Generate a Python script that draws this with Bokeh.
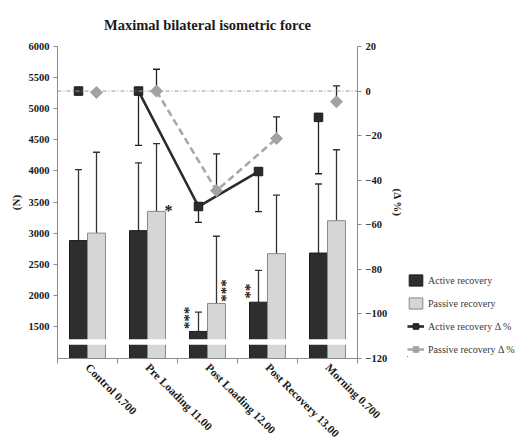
import math
from bokeh.plotting import figure
from bokeh.layouts import row
from bokeh.models import (Range1d, LinearAxis, FixedTicker, ColumnDataSource, Whisker,
                          TeeHead, Legend, LegendItem, Span)
from bokeh.core.properties import value
from bokeh.embed import file_html
from bokeh.resources import INLINE

# ---------------- data ----------------
categories = ["Control 0.700", "Pre Loading 11.00", "Post Loading 12.00",
              "Post Recovery 13.00", "Morning 0.700"]
active_force = [2880, 3040, 1420, 1890, 2680]
active_force_sd = [1140, 1090, 310, 510, 1110]
passive_force = [3000, 3350, 1870, 2670, 3200]
passive_force_sd = [1300, 1090, 1080, 940, 1140]
active_delta = [0, 0, -51.8, -36.1, -11.8]
active_delta_sd = [0, 24.4, 7.1, 18.0, 25.3]
passive_delta = [-0.6, 0, -44.7, -21.3, -4.8]
passive_delta_sd = [0, 9.8, 16.5, 9.7, 7.1]
connected = [1, 2, 3]          # category indices joined by the Δ% lines
left_ticks = [1500, 2000, 2500, 3000, 3500, 4000, 4500, 5000, 5500, 6000]
right_ticks = [-120, -100, -80, -60, -40, -20, 0, 20]
legend_labels = ["Active recovery", "Passive recovery", "Active recovery Δ %", "Passive recovery Δ %"]
# significance marks: (text, category index, series)
significance = [("*", 1, "passive"), ("***", 2, "active"),
                ("***", 2, "passive"), ("**", 3, "active")]

# ---------------- styling ----------------
FONT = "Liberation Serif"
DARK = "#2e2e2e"
LIGHT = "#d6d6d6"
GRAY_LINE = "#a8a8a8"
DIAMOND = "#a3a3a3"
AXIS_C = "#8c8c8c"
OFF = 0.15
BW = 0.3
# placement of significance marks relative to their bar (x in category units, y in N, angle, size)
sig_place = [(0.20, 15, 0, "16px"), (-0.16, 220, math.pi / 2, "15px"),
             (0.15, 210, math.pi / 2, "15px"), (-0.15, 180, math.pi / 2, "15px")]

x = [i + 1 for i in range(len(categories))]
xa = [v - OFF for v in x]
xp = [v + OFF for v in x]

p = figure(frame_width=300, frame_height=312, output_backend="svg", toolbar_location=None,
           x_range=Range1d(0.5, 5.5), y_range=Range1d(985, 6000),
           min_border_left=57, min_border_top=44, min_border_right=40, min_border_bottom=88)
p.extra_y_ranges = {"pct": Range1d(-120, 20)}
p.grid.visible = False
p.outline_line_color = None
p.background_fill_color = "white"

p.title.text = "Maximal bilateral isometric force"
p.title.text_font = FONT
p.title.text_font_size = "14.5px"
p.title.text_font_style = "bold"
p.title.text_color = "#1a1a1a"
p.title.align = "center"
p.title.standoff = 28

bar_a_style = dict(fill_color=DARK, line_color="#1a1a1a", line_width=1)
bar_p_style = dict(fill_color=LIGHT, line_color="#8a8a8a", line_width=1)
ln_a_style = dict(line_color="#2b2b2b", line_width=2.6)
ln_p_style = dict(line_color=GRAY_LINE, line_width=2.6, line_dash="7 4")
sc_a_style = dict(marker="square", size=8.5, fill_color="#2b2b2b", line_color="#1a1a1a")
sc_p_style = dict(marker="square", angle=math.pi / 4, size=8.5, fill_color=DIAMOND, line_color=DIAMOND)

# bars
p.vbar(x=xa, top=active_force, bottom=0, width=BW, **bar_a_style)
p.vbar(x=xp, top=passive_force, bottom=0, width=BW, **bar_p_style)
# axis break band
p.quad(left=[0.5], right=[5.5], bottom=[1205], top=[1295], fill_color="white", line_color=None)

# bar error bars (upper only)
for xs, m, sd in ((xa, active_force, active_force_sd), (xp, passive_force, passive_force_sd)):
    src = ColumnDataSource(dict(x=xs, lower=m, upper=[a + b for a, b in zip(m, sd)]))
    p.add_layout(Whisker(source=src, base="x", lower="lower", upper="upper",
                         line_color="#333333", line_width=1.3, lower_head=None,
                         upper_head=TeeHead(size=7, line_color="#333333", line_width=1.3)))

# zero reference line on the Δ% axis
p.add_layout(Span(location=0, dimension="width", y_range_name="pct", line_color="#9a9a9a",
                  line_width=1, line_dash="4 2 1 2"))

# Δ% error bars
sel = [i for i in range(5) if active_delta_sd[i] > 0]
src = ColumnDataSource(dict(x=[xa[i] for i in sel], upper=[active_delta[i] for i in sel],
                            lower=[active_delta[i] - active_delta_sd[i] for i in sel]))
p.add_layout(Whisker(source=src, base="x", lower="lower", upper="upper", y_range_name="pct",
                     line_color="#222222", line_width=1.3, upper_head=None,
                     lower_head=TeeHead(size=7, line_color="#222222", line_width=1.3)))
sel = [i for i in range(5) if passive_delta_sd[i] > 0]
src = ColumnDataSource(dict(x=[xp[i] for i in sel], lower=[passive_delta[i] for i in sel],
                            upper=[passive_delta[i] + passive_delta_sd[i] for i in sel]))
p.add_layout(Whisker(source=src, base="x", lower="lower", upper="upper", y_range_name="pct",
                     line_color="#222222", line_width=1.3, lower_head=None,
                     upper_head=TeeHead(size=7, line_color="#222222", line_width=1.3)))

# Δ% lines and markers
p.line([xp[i] for i in connected], [passive_delta[i] for i in connected],
       y_range_name="pct", **ln_p_style)
p.line([xa[i] for i in connected], [active_delta[i] for i in connected],
       y_range_name="pct", **ln_a_style)
p.scatter(xp, passive_delta, y_range_name="pct", **sc_p_style)
p.scatter(xa, active_delta, y_range_name="pct", **sc_a_style)

# significance marks
for (txt, i, series), (dx, dy, ang, fs) in zip(significance, sig_place):
    base_x = xa[i] if series == "active" else xp[i]
    top = active_force[i] if series == "active" else passive_force[i]
    p.text(x=[base_x + dx], y=[top + dy], text=[txt], angle=ang, text_font=value(FONT),
           text_font_size=fs, text_font_style="bold",
           text_color="#1a1a1a", text_align="center", text_baseline="middle")

# axes
def style_axis(ax):
    ax.axis_line_color = AXIS_C
    ax.major_tick_line_color = AXIS_C
    ax.minor_tick_line_color = None
    ax.major_tick_in = 0
    ax.major_tick_out = 4
    ax.major_label_text_font = FONT
    ax.major_label_text_font_size = "10.5px"
    ax.major_label_text_font_style = "bold"
    ax.major_label_text_color = "#1a1a1a"
    ax.axis_label_text_font = FONT
    ax.axis_label_text_font_size = "11px"
    ax.axis_label_text_font_style = "bold"
    ax.axis_label_text_color = "#1a1a1a"

ly = p.yaxis[0]
style_axis(ly)
ly.ticker = FixedTicker(ticks=left_ticks)
ly.axis_label = "(N)"
ly.axis_label_standoff = 4
ly.major_label_standoff = 4

ry = LinearAxis(y_range_name="pct", ticker=FixedTicker(ticks=right_ticks), axis_label="(Δ %)")
style_axis(ry)
ry.axis_label_standoff = 2
ry.major_label_standoff = 4
p.add_layout(ry, "right")

xax = p.xaxis[0]
style_axis(xax)
xax.ticker = FixedTicker(ticks=x, minor_ticks=[v + 0.5 for v in [0] + x])
xax.major_tick_line_color = None
xax.minor_tick_line_color = AXIS_C
xax.minor_tick_in = 0
xax.minor_tick_out = 5
xax.major_label_overrides = {v: c for v, c in zip(x, categories)}
xax.major_label_orientation = -math.pi / 4
xax.major_label_text_font_size = "11.5px"
xax.major_label_standoff = 2

# ---------------- legend panel (separate figure; its series are drawn out of view) ----------------
lg = figure(width=115, height=444, output_backend="svg", toolbar_location=None,
            x_range=Range1d(1000, 1001), y_range=Range1d(1e6, 1e6 + 1),
            x_axis_location=None, y_axis_location=None,
            min_border_left=0, min_border_right=0, min_border_top=44, min_border_bottom=88)
lg.grid.visible = False
lg.outline_line_color = None
r1 = lg.vbar(x=xa, top=active_force, width=BW, **bar_a_style)
r2 = lg.vbar(x=xp, top=passive_force, width=BW, **bar_p_style)
r3l = lg.line(xa, active_delta, **ln_a_style)
r3s = lg.scatter(xa, active_delta, **sc_a_style)
r4l = lg.line(xp, passive_delta, **ln_p_style)
r4s = lg.scatter(xp, passive_delta, **{**sc_p_style, "size": 10})
legend = Legend(items=[LegendItem(label=legend_labels[0], renderers=[r1]),
                       LegendItem(label=legend_labels[1], renderers=[r2]),
                       LegendItem(label=legend_labels[2], renderers=[r3l, r3s]),
                       LegendItem(label=legend_labels[3], renderers=[r4l, r4s])],
                location="bottom_left", orientation="vertical",
                label_text_font=FONT, label_text_font_size="10px", label_text_color="#383838",
                glyph_width=17, glyph_height=14, spacing=9, padding=0, margin=0,
                label_standoff=4, border_line_color=None, background_fill_alpha=0)
lg.add_layout(legend, "center")

layout = row(p, lg)
open("out.html", "w").write(file_html(layout, INLINE))
